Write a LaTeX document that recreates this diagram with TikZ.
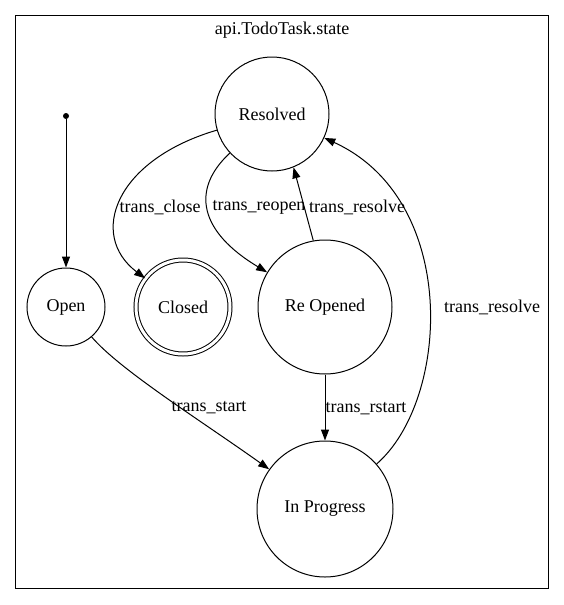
\documentclass[tikz,border=0pt]{standalone}
\usepackage{fontspec}
\setmainfont{Liberation Serif}
\usepackage{tikz}
\usetikzlibrary{arrows.meta}

\begin{document}
\begin{tikzpicture}[x=1pt,y=-1pt,
    state/.style={circle, draw, line width=1pt, inner sep=0pt},
    lbl/.style={inner sep=0pt},
    >={Triangle[length=11pt,width=8pt]},
    every node/.style={font=\fontsize{18}{21}\selectfont}]
    \useasboundingbox (0,0) rectangle (564,605);
    \draw[line width=1pt] (15,15) rectangle (548,588);
    \node (title) at (282,30) {api.TodoTask.state};

    \node (init) [circle, fill=black, inner sep=0pt, minimum size=6pt] at (66,116) {};
    \node (open) [state, minimum size=78pt] at (66,307) {Open};
    \node (closed) [state,
    double,
    double distance=3pt,
    minimum size=94pt] at (183,307) {Closed};
    \node (resolved) [state, minimum size=114pt] at (272,114) {Resolved};
    \node (reopened) [state, minimum size=134pt] at (325,307) {Re Opened};
    \node (progress) [state, minimum size=136pt] at (325,509) {In Progress};

    \draw[->, line width=1pt] (init) -- (open);
    \draw[->, line width=1pt] (resolved) .. controls (115,160) and (88,235) .. (closed);
    \draw[->, line width=1pt] (resolved) .. controls (190,190) and (200,232) .. (reopened);
    \draw[->, line width=1pt] (reopened.100) -- (resolved.-68);
    \draw[->, line width=1pt] (reopened) -- (progress);
    \draw[->, line width=1pt] (open) .. controls (120,370) and (200,420) .. (progress);
    \draw[->, line width=1pt] (progress) .. controls (450,400) and (460,200) .. (resolved);

    \node (lclose) [lbl] at (160,207) {trans\_close};
    \node (lreopen) [lbl] at (259,207) {trans\_reopen};
    \node (lresolve) [lbl] at (357,207) {trans\_resolve};
    \node (lrstart) [lbl] at (366,409) {trans\_rstart};
    \node (lstart) [lbl] at (209,408) {trans\_start};
    \node (lresolve2) [lbl] at (492,307) {trans\_resolve};
\end{tikzpicture}
\end{document}
